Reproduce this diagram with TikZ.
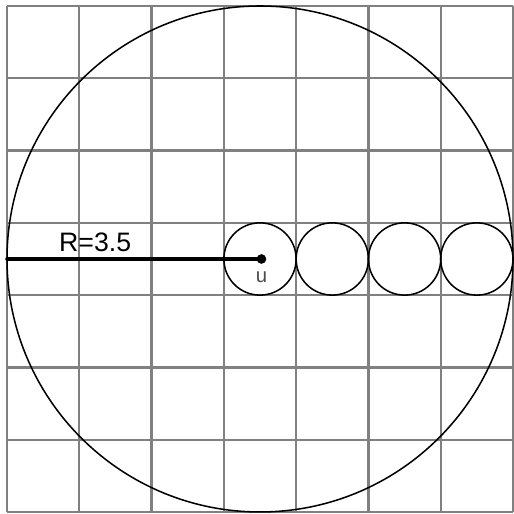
\documentclass[tikz,border=0pt]{standalone}
\usepackage{fontspec}
\setmainfont{Liberation Sans}
\begin{document}
\begin{tikzpicture}
% TikZ grid with packed circles
\def\cellsz{1cm}
\providecommand{\packGridLineColor}{black!50}
\providecommand{\packGridLineWidth}{0.9pt}
\providecommand{\packCircleLineWidth}{0.6pt}
\providecommand{\packRadiusLineWidth}{1.4pt}
\begin{scope}[x=\cellsz, y=\cellsz, line cap=round, line join=round]
  % Frame of the picture
  \useasboundingbox (-0.097,-0.028) rectangle (7.014,7.083);
  % Grid
  % Vertical lines
  \begin{scope}[draw=\packGridLineColor, line width=\packGridLineWidth, line cap=butt]
    \draw (0,0) -- (0,7);
    \draw (1,0) -- (1,7);
    \draw (2,0) -- (2,7);
    \draw (3,0) -- (3,7);
    \draw (4,0) -- (4,7);
    \draw (5,0) -- (5,7);
    \draw (6,0) -- (6,7);
    \draw (7,0) -- (7,7);
  \end{scope}
  % Horizontal lines
  \begin{scope}[draw=\packGridLineColor, line width=\packGridLineWidth, line cap=butt]
    \draw (0,0) -- (7,0);
    \draw (0,1) -- (7,1);
    \draw (0,2) -- (7,2);
    \draw (0,3) -- (7,3);
    \draw (0,4) -- (7,4);
    \draw (0,5) -- (7,5);
    \draw (0,6) -- (7,6);
    \draw (0,7) -- (7,7);
  \end{scope}
  % Outer circle
  \draw[line width=\packCircleLineWidth] (3.5,3.5) circle (3.5);
  % Small circles
  \begin{scope}[line width=\packCircleLineWidth]
    \draw (3.5,3.5) circle (0.5);
    \draw (4.5,3.5) circle (0.5);
    \draw (5.5,3.5) circle (0.5);
    \draw (6.5,3.5) circle (0.5);
  \end{scope}
  % Centre and radius
  \node[circle, fill=black, inner sep=0pt, minimum size=3.8pt] (u) at (3.52,3.5) {};
  \node[font=\fontsize{8}{9}\selectfont, text=black!70, anchor=north, inner sep=0pt] (ulabel) at (3.52,3.33) {u};
  \coordinate (rim) at (0,3.5);
  \draw[line width=\packRadiusLineWidth] (rim) -- (u.center);
  \node[font=\fontsize{10.5}{12}\selectfont, anchor=base, inner sep=0pt] (rlabel) at (1.22,3.61) {R=3.5};
\end{scope}
\end{tikzpicture}
\end{document}
